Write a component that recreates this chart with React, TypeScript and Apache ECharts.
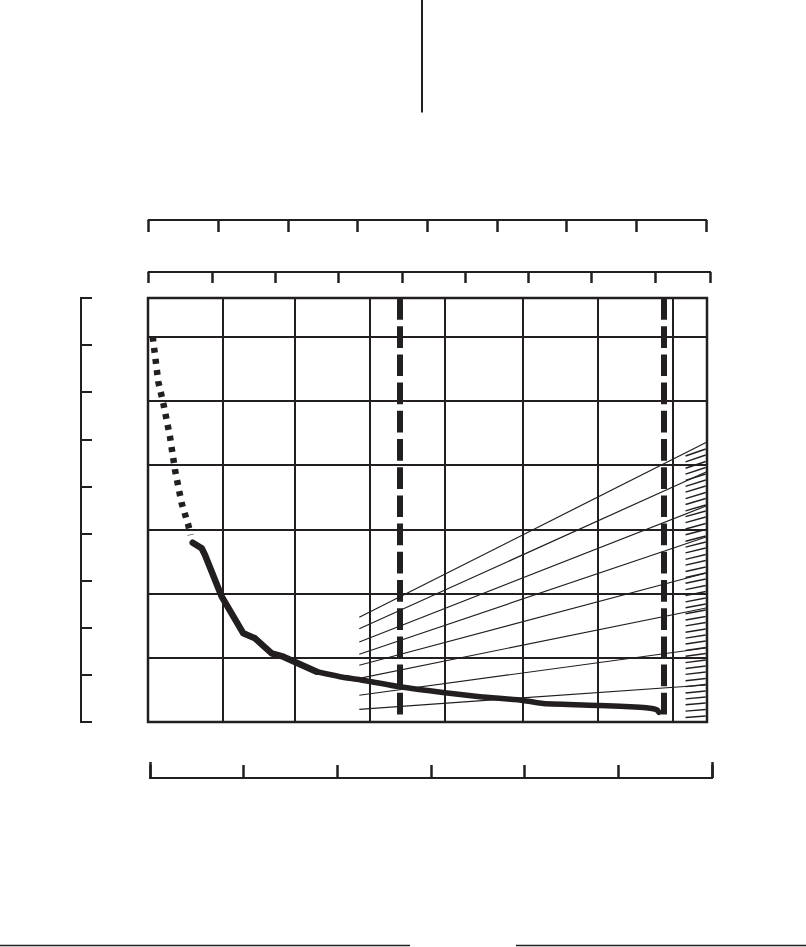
import React, { useEffect, useRef } from "react";
import * as echarts from "echarts";

const INK = "#231f20";

// Plot area extents (grid units: one x unit per vertical grid cell, one y unit per horizontal grid cell)
const plotXMax = 7.453;
const plotYMax = 6.6;
const plotXGrid = [1.0, 1.96, 2.96, 3.95, 5.0, 6.0, 7.0];
const dashedX = [3.36, 6.871];

// Main curve
const dottedCurve = [
  [0.063, 5.998], [0.137, 5.298], [0.204, 4.961], [0.293, 4.441],
  [0.36, 3.923], [0.449, 3.404], [0.537, 3.067], [0.569, 2.911],
];
const curveSteep = [
  [0.596, 2.791], [0.716, 2.704], [0.76, 2.6], [0.983, 1.951], [1.271, 1.381],
  [1.427, 1.303], [1.649, 1.069], [1.804, 1.017], [2.249, 0.783],
];
const curveFlat = [
  [2.267, 0.778], [2.56, 0.705], [2.827, 0.658], [3.36, 0.548], [3.96, 0.456],
  [4.427, 0.394], [5.004, 0.335], [5.271, 0.288], [6.027, 0.257], [6.56, 0.23],
  [6.72, 0.21], [6.787, 0.187], [6.813, 0.151],
];

// Fan of thin lines
const fanLeftX = 2.817;
const fanRightX = 7.44;
const fanLeftY = [1.63, 1.452, 1.245, 1.054, 0.883, 0.68, 0.416, 0.198];
const fanRightY = [4.351, 3.892, 3.362, 2.88, 2.319, 1.775, 1.152, 0.576];

// Short hatches along the right edge
const hatchLeftX = 7.167;
const hatchRightX = 7.436;
const hatchRightY = [
  4.25, 4.156, 4.055, 3.962, 3.861, 3.767, 3.674, 3.573, 3.479, 3.378, 3.285,
  3.191, 3.09, 2.997, 2.895, 2.802, 2.709, 2.607, 2.514, 2.413, 2.319, 2.226,
  2.125, 2.031, 1.93, 1.837, 1.743, 1.642, 1.549, 1.448, 1.354, 1.261, 1.16,
  1.066, 0.965, 0.872, 0.778, 0.677, 0.584, 0.483, 0.389, 0.296, 0.195, 0.093,
];
const hatchLeftY = [
  4.141, 4.049, 3.95, 3.859, 3.76, 3.668, 3.577, 3.478, 3.386, 3.287, 3.196,
  3.104, 3.005, 2.914, 2.814, 2.723, 2.632, 2.532, 2.441, 2.342, 2.25, 2.159,
  2.06, 1.968, 1.869, 1.778, 1.686, 1.587, 1.496, 1.397, 1.305, 1.214, 1.115,
  1.023, 0.924, 0.833, 0.741, 0.642, 0.551, 0.452, 0.36, 0.269, 0.17, 0.07,
];

// Outer scales (tick counts)
const topScaleAMax = 8;
const topScaleBMax = 8.87;
const leftScaleMax = 9;
const bottomScaleMax = 6;

function hiddenAxis(gridIndex: number) {
  return { type: "value", gridIndex, show: false, min: 0, max: 1 };
}

function scaleAxis(gridIndex: number, position: string, max: number, interval: number, tickLen: number, tickWidth: number) {
  return {
    type: "value",
    gridIndex,
    position,
    min: 0,
    max,
    interval,
    axisLine: { show: true, onZero: false, lineStyle: { color: INK, width: 2, cap: "square" } },
    axisTick: { show: true, inside: true, length: tickLen, lineStyle: { color: INK, width: tickWidth } },
    axisLabel: { show: false },
    splitLine: { show: false },
  };
}

export default function App() {
  const ref = useRef<HTMLDivElement>(null);

  useEffect(() => {
    document.body.style.margin = "0";
    if (!ref.current) return;
    const chart = echarts.init(ref.current, undefined, { renderer: "svg" });

    const lineSegs: any[] = [];
    fanLeftY.forEach((y, i) => {
      lineSegs.push([{ coord: [fanLeftX, y] }, { coord: [fanRightX, fanRightY[i]] }]);
    });
    const hatchSegs: any[] = hatchRightY.map((y, i) => [
      { coord: [hatchLeftX, hatchLeftY[i]] },
      { coord: [hatchRightX, y] },
    ]);

    const option: any = {
      animation: false,
      backgroundColor: "#ffffff",
      grid: [
        { left: 148, top: 298, width: 559, height: 424, show: true, borderColor: INK, borderWidth: 2.5, backgroundColor: "transparent" },
        { left: 148.7, top: 220, width: 557.3, height: 10 },
        { left: 148.7, top: 272, width: 561.3, height: 10 },
        { left: 81, top: 298, width: 10, height: 424 },
        { left: 150, top: 768, width: 562, height: 10 },
      ],
      xAxis: [
        { type: "value", gridIndex: 0, min: 0, max: plotXMax, show: false },
        scaleAxis(1, "top", topScaleAMax, 1, 12, 2.5),
        scaleAxis(2, "top", topScaleBMax, 1, 11, 2.5),
        hiddenAxis(3),
        scaleAxis(4, "bottom", bottomScaleMax, 1, 13, 2.5),
        scaleAxis(4, "bottom", bottomScaleMax, bottomScaleMax, 16, 2.5),
      ],
      yAxis: [
        {
          type: "value",
          gridIndex: 0,
          min: 0,
          max: plotYMax,
          interval: 1,
          axisLine: { show: false },
          axisTick: { show: false },
          axisLabel: { show: false },
          splitLine: { show: true, lineStyle: { color: INK, width: 2 } },
        },
        hiddenAxis(1),
        hiddenAxis(2),
        scaleAxis(3, "left", leftScaleMax, 1, 11, 2),
        hiddenAxis(4),
      ],
      graphic: [
        { type: "line", shape: { x1: 422, y1: 0, x2: 422, y2: 112.5 }, style: { stroke: INK, lineWidth: 2 } },
        { type: "line", shape: { x1: 0, y1: 945.5, x2: 410, y2: 945.5 }, style: { stroke: INK, lineWidth: 1.5 } },
        { type: "line", shape: { x1: 516, y1: 945.5, x2: 806, y2: 945.5 }, style: { stroke: INK, lineWidth: 1.5 } },
      ],
      series: [
        {
          type: "line",
          xAxisIndex: 0,
          yAxisIndex: 0,
          data: [],
          z: 1,
          silent: true,
          markLine: {
            silent: true,
            symbol: ["none", "none"],
            label: { show: false },
            lineStyle: { color: INK, width: 2, type: "solid" },
            data: plotXGrid.map((v) => ({ xAxis: v })),
          },
        },
        {
          type: "line",
          xAxisIndex: 0,
          yAxisIndex: 0,
          data: [],
          z: 2,
          silent: true,
          markLine: {
            silent: true,
            symbol: ["none", "none"],
            label: { show: false },
            lineStyle: { color: INK, width: 1.2, type: "solid" },
            data: lineSegs,
          },
        },
        {
          type: "line",
          xAxisIndex: 0,
          yAxisIndex: 0,
          data: [],
          z: 2,
          silent: true,
          markLine: {
            silent: true,
            symbol: ["none", "none"],
            label: { show: false },
            lineStyle: { color: INK, width: 1.4, type: "solid" },
            data: hatchSegs,
          },
        },
        {
          type: "line",
          xAxisIndex: 0,
          yAxisIndex: 0,
          data: dottedCurve,
          showSymbol: false,
          symbol: "none",
          z: 3,
          silent: true,
          lineStyle: { color: INK, width: 6.5, type: [5, 6.2], cap: "butt" },
        },
        {
          type: "line",
          xAxisIndex: 0,
          yAxisIndex: 0,
          data: curveSteep,
          symbol: "none",
          z: 3,
          silent: true,
          lineStyle: { color: INK, width: 6.5, cap: "round", join: "round" },
        },
        {
          type: "line",
          xAxisIndex: 0,
          yAxisIndex: 0,
          data: curveFlat,
          symbol: "none",
          smooth: 0.2,
          z: 3,
          silent: true,
          lineStyle: { color: INK, width: 5.5, cap: "round", join: "round" },
        },
        {
          type: "line",
          xAxisIndex: 0,
          yAxisIndex: 0,
          data: [],
          z: 4,
          silent: true,
          markLine: {
            silent: true,
            symbol: ["none", "none"],
            label: { show: false },
            lineStyle: { color: INK, width: 6, type: [21.7, 6.5], cap: "butt" },
            data: dashedX.map((v) => [{ coord: [v, plotYMax] }, { coord: [v, 0] }]),
          },
        },
      ],
    };

    chart.setOption(option);
    return () => {
      chart.dispose();
    };
  }, []);

  return <div ref={ref} style={{ width: 806, height: 947 }} />;
}
